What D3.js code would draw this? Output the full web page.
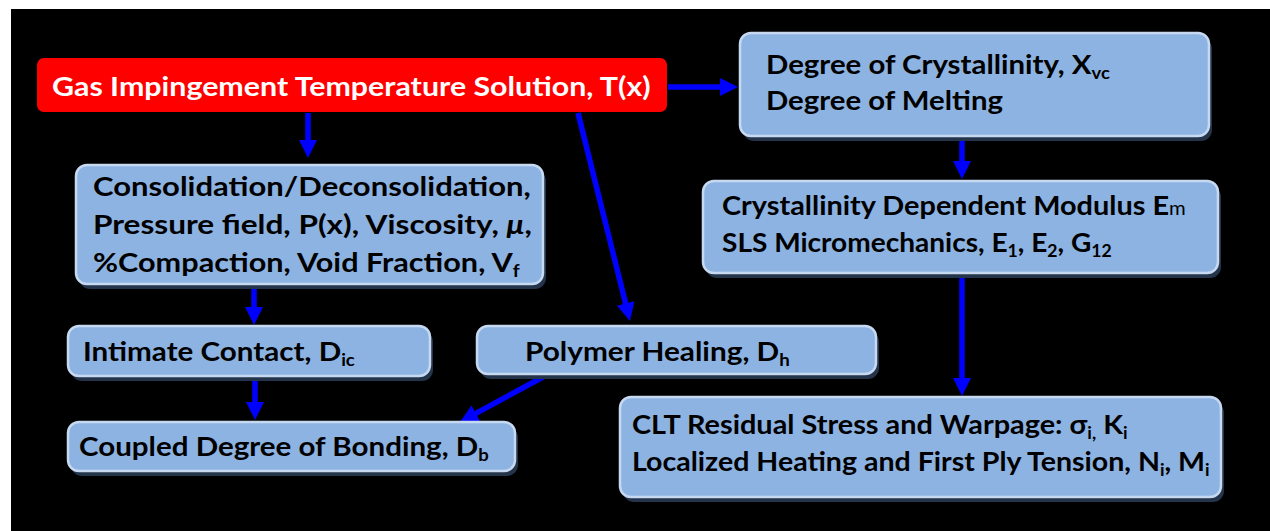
<!DOCTYPE html>
<html><head><meta charset="utf-8">
<script src="https://cdn.jsdelivr.net/npm/d3@7"></script>
<style>html,body{margin:0;padding:0;background:#fff;}svg{display:block;}</style>
</head><body>
<script>
// ---- content ----
const nodeIds = ["gas","deg","cry","con","int","pol","cou","clt"];
const nodeLines = [
  ["Gas Impingement Temperature Solution, T(x)"],
  ["Degree of Crystallinity, X_{vc}", "Degree of Melting"],
  ["Crystallinity Dependent Modulus E^{m}", "SLS Micromechanics, E_{1}, E_{2}, G_{12}"],
  ["Consolidation/Deconsolidation,", "Pressure field, P(x), Viscosity, *μ*,", "%Compaction, Void Fraction, V_{f}"],
  ["Intimate Contact, D_{ic}"],
  ["Polymer Healing, D_{h}"],
  ["Coupled Degree of Bonding, D_{b}"],
  ["CLT Residual Stress and Warpage: σ_{i,} K_{i}", "Localized Heating and First Ply Tension, N_{i}, M_{i}"]
];
const edgeFrom = ["gas","gas","gas","deg","con","int","pol","cry"];
const edgeTo   = ["deg","con","pol","cry","int","cou","cou","clt"];

// ---- layout (pixel geometry) ----
const boxGeom = { // x, y, w, h
  gas:[37,58,630,54], deg:[740,33,469,103], cry:[703,181,515,92], con:[76,165,467,119],
  int:[68,326,362,50], pol:[477,326,399,48], cou:[68,422,447,49], clt:[620,397,601,100]
};
const textGeom = { // x, baselines, widths
  gas:[52,[96],[599]], deg:[766,[74,110],[344,237]], cry:[722,[215,252],[464,390]],
  con:[93,[196,234,272],[438,439,427]], int:[83,[361],[272]], pol:[525,[361],[265]],
  cou:[79,[456],[410]], clt:[632,[434,471],[496,578]]
};
const edgeGeom = [ // x1,y1,x2,y2 (tip)
  [668,87,738,87],[308,113,308,158],[578,113,630,321],[962,137,962,179],
  [254,284,254,325],[255,376,255,420],[543,377,460,422],[962,273,962,396]
];

const W=1270,H=531;
const svg=d3.select("body").append("svg").attr("width",W).attr("height",H);
svg.append("rect").attr("x",11).attr("y",9).attr("width",W-11).attr("height",H-9).attr("fill","#000");

const nodes = nodeIds.map((id,i)=>({id, lines:nodeLines[i], g:boxGeom[id], t:textGeom[id]}));

// edges (draw under boxes)
const eg = svg.append("g");
edgeFrom.forEach((f,i)=>{
  const [x1,y1,x2,y2]=edgeGeom[i];
  const dx=x2-x1, dy=y2-y1, L=Math.hypot(dx,dy), ux=dx/L, uy=dy/L;
  const hl=18, hw=9;
  const bx=x2-ux*hl, by=y2-uy*hl;
  eg.append("line").attr("x1",x1).attr("y1",y1).attr("x2",bx+ux*2).attr("y2",by+uy*2)
    .attr("stroke","#0000ff").attr("stroke-width",5.5);
  eg.append("polygon").attr("points",[[x2,y2],[bx-uy*hw,by+ux*hw],[bx+uy*hw,by-ux*hw]].map(p=>p.join(",")).join(" "))
    .attr("fill","#0000ff");
});

const ng = svg.selectAll("g.node").data(nodes).enter().append("g").attr("class","node");
ng.each(function(d){
  const g=d3.select(this);
  const [x,y,w,h]=d.g;
  if(d.id==="gas"){
    g.append("rect").attr("x",x).attr("y",y).attr("width",w).attr("height",h).attr("rx",7).attr("fill","#ff0000");
  } else {
    g.append("rect").attr("x",x+3).attr("y",y+5).attr("width",w).attr("height",h).attr("rx",11).attr("fill","#24344a");
    g.append("rect").attr("x",x).attr("y",y).attr("width",w).attr("height",h).attr("rx",11)
      .attr("fill","#8db3e2").attr("stroke","#c6d9f1").attr("stroke-width",2.5);
  }
  const [tx,bases,widths]=d.t;
  d.lines.forEach((line,li)=>{
    const wrap=g.append("g").attr("transform",`translate(${tx},${bases[li]})`);
    const t=wrap.append("text").attr("x",0).attr("y",0)
      .attr("font-family","Lato, 'Open Sans', sans-serif").attr("font-weight","bold").attr("font-size",27)
      .attr("fill", d.id==="gas"?"#ffffff":"#000000");
    const parts=line.split(/(_\{[^}]*\}|\^\{[^}]*\}|\*[^*]*\*)/).filter(s=>s.length);
    let shifted=0;
    parts.forEach(p=>{
      if(p.startsWith("_{")){
        t.append("tspan").attr("font-size",17).attr("dy",5-shifted).text(p.slice(2,-1)); shifted=5;
      } else if(p.startsWith("^{")){
        t.append("tspan").attr("font-size",19).attr("font-weight","normal").attr("dy",0-shifted).text(p.slice(2,-1)); shifted=0;
      } else if(p.startsWith("*")){
        t.append("tspan").attr("font-style","italic").attr("dy",0-shifted).text(p.slice(1,-1)); shifted=0;
      } else {
        t.append("tspan").attr("dy",0-shifted).text(p); shifted=0;
      }
    });
    const nat=t.node().getComputedTextLength();
    const sx=widths[li]/nat;
    t.attr("transform",`scale(${sx},1)`);
  });
});
</script>
</body></html>
